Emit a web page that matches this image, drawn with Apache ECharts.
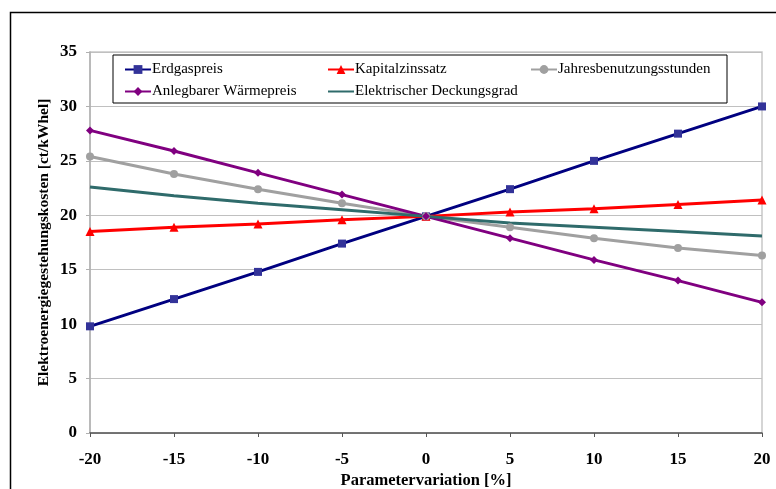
<!DOCTYPE html>
<html>
<head>
<meta charset="utf-8">
<script src="https://cdn.jsdelivr.net/npm/echarts@6/dist/echarts.min.js"></script>
<style>
  html, body { margin: 0; padding: 0; background: #fff; }
  #chart { width: 776px; height: 489px; }
</style>
</head>
<body>
<div id="chart"></div>
<script>
// Parameter variation in percent (x axis)
const variation = [-20, -15, -10, -5, 0, 5, 10, 15, 20];

// Electricity generation cost [ct/kWhel] per varied parameter
const erdgaspreis        = [9.8, 12.3, 14.8, 17.4, 19.9, 22.4, 25.0, 27.5, 30.0];
const kapitalzinssatz    = [18.5, 18.9, 19.2, 19.6, 19.9, 20.3, 20.6, 21.0, 21.4];
const jahresbenutzung    = [25.4, 23.8, 22.4, 21.1, 19.9, 18.9, 17.9, 17.0, 16.3];
const waermepreis        = [27.8, 25.9, 23.9, 21.9, 19.9, 17.9, 15.9, 14.0, 12.0];
const deckungsgrad       = [22.6, 21.8, 21.1, 20.5, 19.9, 19.3, 18.9, 18.5, 18.1];

const seriesNames = [
  'Erdgaspreis', 'Kapitalzinssatz', 'Jahresbenutzungsstunden',
  'Anlegbarer Wärmepreis', 'Elektrischer Deckungsgrad'
];

const yTicks = { min: 0, max: 35, interval: 5 };
const xTicks = { min: -20, max: 20, interval: 5 };

const FONT = '"Liberation Serif", "Times New Roman", serif';

function pairs(values) {
  return variation.map((x, i) => [x, values[i]]);
}

function lineSeries(name, values, lineColor, markerColor, symbol, size) {
  return {
    name: name,
    type: 'line',
    data: pairs(values),
    symbol: symbol,
    symbolSize: size,
    showSymbol: symbol !== 'none',
    lineStyle: { color: lineColor, width: 3 },
    itemStyle: { color: markerColor, borderWidth: 0 },
    emphasis: { disabled: true },
    animation: false,
    z: 3
  };
}

// Legend entries; the unmarked series shows only its line sample
const legendData = seriesNames.map((name, i) =>
  i === 4 ? { name: name, itemStyle: { opacity: 0 } } : { name: name }
);

const chart = echarts.init(document.getElementById('chart'), null, { renderer: 'canvas' });

chart.setOption({
  backgroundColor: '#ffffff',
  animation: false,
  textStyle: { fontFamily: FONT },
  graphic: [{
    type: 'rect',
    shape: { x: 10.5, y: 12.5, width: 800, height: 520 },
    style: { fill: 'none', stroke: '#000000', lineWidth: 1.5 },
    silent: true,
    z: 0
  }],
  grid: {
    left: 90, right: 14, top: 52, bottom: 56,
    outerBoundsMode: 'none',
    containLabel: false,
    show: true,
    borderColor: '#c8c8c8',
    borderWidth: 1.5,
    backgroundColor: 'transparent'
  },
  legend: {
    data: legendData,
    left: 113,
    top: 55,
    width: 612,
    orient: 'horizontal',
    itemWidth: 26,
    itemHeight: 11,
    itemGap: 7,
    padding: [7, 1, 4, 11],
    borderColor: '#000000',
    borderWidth: 1,
    backgroundColor: '#ffffff',
    selectedMode: false,
    textStyle: {
      fontFamily: FONT,
      fontSize: 15,
      color: '#000000',
      width: 168,
      lineHeight: 11,
      padding: [0, 0, 0, -4]
    }
  },
  xAxis: {
    type: 'value',
    min: xTicks.min, max: xTicks.max, interval: xTicks.interval,
    name: 'Parametervariation [%]',
    nameLocation: 'middle',
    nameGap: 39,
    nameMoveOverlap: false,
    nameTextStyle: { fontFamily: FONT, fontWeight: 'bold', fontSize: 16.5, color: '#000' },
    axisLine: { show: true, lineStyle: { color: '#555555', width: 1.5 } },
    axisTick: { show: true, inside: false, length: 4, lineStyle: { color: '#555555' } },
    axisLabel: { fontFamily: FONT, fontWeight: 'bold', fontSize: 17, color: '#000', margin: 18 },
    splitLine: { show: false }
  },
  yAxis: {
    type: 'value',
    min: yTicks.min, max: yTicks.max, interval: yTicks.interval,
    name: 'Elektroenergiegestehungskosten [ct/kWhel]',
    nameLocation: 'middle',
    nameGap: 38,
    nameRotate: 90,
    nameMoveOverlap: false,
    nameTextStyle: { fontFamily: FONT, fontWeight: 'bold', fontSize: 15.5, color: '#000' },
    axisLine: { show: true, onZero: false, lineStyle: { color: '#b0b0b0', width: 1.5 } },
    axisTick: { show: true, length: 4, lineStyle: { color: '#b0b0b0' } },
    axisLabel: { fontFamily: FONT, fontWeight: 'bold', fontSize: 17, color: '#000', margin: 13 },
    splitLine: { show: true, lineStyle: { color: '#c0c0c0', width: 1.2 } }
  },
  series: [
    lineSeries(seriesNames[0], erdgaspreis, '#000080', '#333399', 'rect', 8),
    lineSeries(seriesNames[1], kapitalzinssatz, '#ff0000', '#ff0000', 'triangle', 9),
    lineSeries(seriesNames[2], jahresbenutzung, '#a0a0a0', '#a0a0a0', 'circle', 8),
    lineSeries(seriesNames[3], waermepreis, '#800080', '#800080', 'diamond', 8),
    lineSeries(seriesNames[4], deckungsgrad, '#2f6b6b', '#2f6b6b', 'none', 0)
  ]
});
</script>
</body>
</html>
